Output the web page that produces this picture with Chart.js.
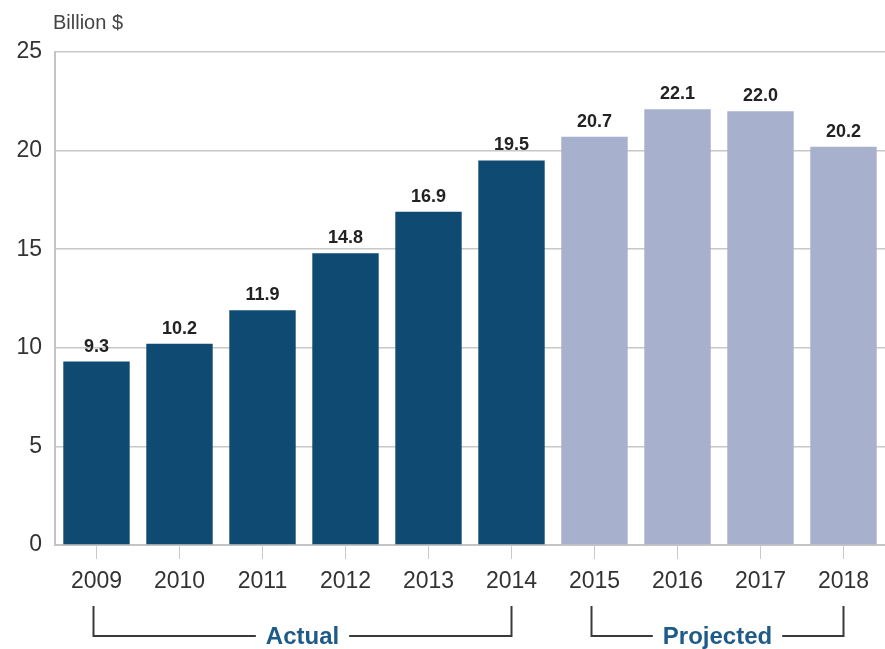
<!DOCTYPE html>
<html>
<head>
<meta charset="utf-8">
<script src="https://cdn.jsdelivr.net/npm/chart.js@4"></script>
<style>
  html, body { margin: 0; padding: 0; background: #ffffff; }
  #wrap { position: relative; width: 885px; height: 649px; }
</style>
</head>
<body>
<div id="wrap"><canvas id="chart" width="885" height="649"></canvas></div>
<script>
const years = ['2009', '2010', '2011', '2012', '2013', '2014', '2015', '2016', '2017', '2018'];
const values = [9.3, 10.2, 11.9, 14.8, 16.9, 19.5, 20.7, 22.1, 22.0, 20.2];
const valueLabels = ['9.3', '10.2', '11.9', '14.8', '16.9', '19.5', '20.7', '22.1', '22.0', '20.2'];
const isProjected = [false, false, false, false, false, false, true, true, true, true];
const groups = [
  { label: 'Actual', from: 0, to: 5 },
  { label: 'Projected', from: 6, to: 9 }
];
const yTicks = [0, 5, 10, 15, 20, 25];

const FONT = "'Liberation Sans', Arial, sans-serif";
const actualColor = '#0e4a72';
const projectedColor = '#a7b0cc';

// Titre de l'axe, étiquettes des barres et accolades en bas
const extras = {
  id: 'extras',
  afterDatasetsDraw(chart) {
    const c = chart.ctx;
    const meta = chart.getDatasetMeta(0);
    c.save();
    c.fillStyle = '#222';
    c.font = 'bold 18px ' + FONT;
    c.textAlign = 'center';
    c.textBaseline = 'bottom';
    meta.data.forEach((bar, i) => {
      c.fillText(valueLabels[i], bar.x, bar.y - 6);
    });

    c.fillStyle = '#444';
    c.font = '20px ' + FONT;
    c.textAlign = 'left';
    c.textBaseline = 'alphabetic';
    c.fillText('Billion $', 53, 29);

    const x = chart.scales.x;
    const top = 606, base = 636;
    c.strokeStyle = '#3a3a3a';
    c.lineWidth = 2;
    c.font = 'bold 24px ' + FONT;
    c.textAlign = 'center';
    c.textBaseline = 'middle';
    groups.forEach(g => {
      const x0 = x.getPixelForValue(g.from) - 3;
      const x1 = x.getPixelForValue(g.to);
      const mid = (x0 + x1) / 2;
      const half = c.measureText(g.label).width / 2 + 10;
      c.beginPath();
      c.moveTo(x0, top);
      c.lineTo(x0, base);
      c.lineTo(mid - half, base);
      c.moveTo(mid + half, base);
      c.lineTo(x1, base);
      c.lineTo(x1, top);
      c.stroke();
      c.fillStyle = '#1f5b88';
      c.fillText(g.label, mid, base + 1);
    });
    c.restore();
  }
};

new Chart(document.getElementById('chart'), {
  type: 'bar',
  data: {
    labels: years,
    datasets: [{
      data: values,
      backgroundColor: isProjected.map(p => p ? projectedColor : actualColor),
      barPercentage: 0.8,
      categoryPercentage: 1.0
    }]
  },
  options: {
    responsive: false,
    animation: false,
    layout: { padding: { top: 52, right: 0, bottom: 59, left: 0 } },
    plugins: { legend: { display: false }, tooltip: { enabled: false } },
    scales: {
      x: {
        grid: {
          display: true,
          offset: false,
          drawOnChartArea: false,
          drawTicks: true,
          tickLength: 14,
          color: '#c9c9c9'
        },
        border: { display: true, color: '#c4c4c4', width: 2 },
        ticks: {
          color: '#333',
          font: { family: FONT, size: 23 },
          padding: 9,
          maxRotation: 0
        },
        afterFit(scale) { scale.height = 45; }
      },
      y: {
        min: 0,
        max: 25,
        afterBuildTicks(scale) { scale.ticks = yTicks.map(v => ({ value: v })); },
        grid: { color: '#c8c8c8', lineWidth: 1.5, drawTicks: false },
        border: { display: true, color: '#c4c4c4', width: 2 },
        ticks: {
          color: '#333',
          font: { family: FONT, size: 23 },
          padding: 13
        },
        afterFit(scale) { scale.width = 55; }
      }
    }
  },
  plugins: [extras]
});
</script>
</body>
</html>
